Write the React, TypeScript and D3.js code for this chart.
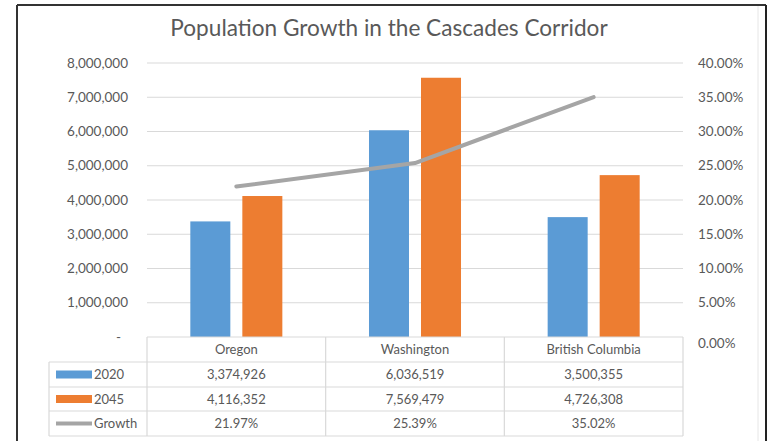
import React from "react";
import * as d3 from "d3";

const categories = ["Oregon", "Washington", "British Columbia"];
const seriesNames = ["2020", "2045"];
const pop2020 = [3374926, 6036519, 3500355];
const pop2045 = [4116352, 7569479, 4726308];
const growth = [0.2197, 0.2539, 0.3502];
const growthLabels = ["21.97%", "25.39%", "35.02%"];
const leftTicks = [0, 1000000, 2000000, 3000000, 4000000, 5000000, 6000000, 7000000, 8000000];
const rightTicks = [0, 0.05, 0.1, 0.15, 0.2, 0.25, 0.3, 0.35, 0.4];
const title = "Population Growth in the Cascades Corridor";

const W = 769, H = 441;
const FONT = "Lato, 'Open Sans', sans-serif";
const TEXT = "#595959";
const GRID = "#D9D9D9";
const BLUE = "#5B9BD5";
const ORANGE = "#ED7D31";
const GRAY = "#A5A5A5";

export default function App() {
  const plotL = 147, plotR = 683, plotT = 63, plotB = 337;
  const x = d3.scaleBand<string>().domain(categories).range([plotL, plotR]);
  const xs = d3.scaleBand<string>().domain(seriesNames).range([0, x.bandwidth()])
    .paddingInner(0.2308).paddingOuter(0.833);
  const y = d3.scaleLinear().domain([0, 8000000]).range([plotB, plotT]);
  const yR = d3.scaleLinear().domain([0, 0.4]).range([plotB, plotT]);
  const fmtNum = d3.format(",");
  const fmtPct = d3.format(".2%");
  const series = [pop2020, pop2045];
  const colors = [BLUE, ORANGE];
  const line = d3.line<number>()
    .x((_, i) => (x(categories[i]) as number) + x.bandwidth() / 2)
    .y((d) => yR(d));

  const rowsY = [337, 362, 387, 411, 436];
  const tableL = 49;
  const vLines = [plotL, ...categories.slice(1).map((c) => x(c) as number), plotR];

  return (
    <svg width={W} height={H} style={{ position: "fixed", left: 0, top: 0, background: "#fff" }}
      fontFamily={FONT}>
      <rect x={0} y={0} width={W} height={H} fill="#fff" />
      {/* outer frame */}
      <line x1={17} y1={5} x2={17} y2={H} stroke="#333" strokeWidth={2} />
      <line x1={17} y1={5} x2={766} y2={5} stroke="#333" strokeWidth={2} />
      <line x1={766} y1={5} x2={766} y2={H} stroke="#222" strokeWidth={2} />
      <line x1={758} y1={6} x2={758} y2={H} stroke="#E6E6E6" strokeWidth={1} />
      <text x={389} y={36} textAnchor="middle" fontSize={22.6} fill={TEXT}>{title}</text>

      {/* gridlines */}
      {leftTicks.slice(1).map((t) => (
        <line key={t} x1={plotL} x2={plotR} y1={y(t)} y2={y(t)} stroke={GRID} strokeWidth={1.2} />
      ))}
      {/* left axis labels */}
      {leftTicks.map((t) => (
        <text key={t} x={t === 0 ? 121 : 128} y={y(t)} dy="0.35em" textAnchor="end" fontSize={13.5} fill={TEXT}>
          {t === 0 ? "-" : fmtNum(t)}
        </text>
      ))}
      {/* right axis labels */}
      {rightTicks.map((t, i) => (
        <text key={t} x={698} y={yR(t) + (i === 0 ? 6 : 0)} dy="0.35em" textAnchor="start" fontSize={13.5} fill={TEXT}>
          {fmtPct(t)}
        </text>
      ))}

      {/* bars */}
      {series.map((vals, si) =>
        vals.map((v, ci) => (
          <rect key={si + "-" + ci}
            x={(x(categories[ci]) as number) + (xs(seriesNames[si]) as number)}
            y={y(v)} width={xs.bandwidth()} height={plotB - y(v)} fill={colors[si]} />
        ))
      )}
      {/* growth line */}
      <path d={line(growth) || ""} fill="none" stroke={GRAY} strokeWidth={4} strokeLinejoin="round" strokeLinecap="round" />

      {/* data table */}
      <line x1={plotL} x2={plotR} y1={rowsY[0]} y2={rowsY[0]} stroke={GRID} strokeWidth={1.2} />
      {rowsY.slice(1).map((ry) => (
        <line key={ry} x1={tableL} x2={plotR} y1={ry} y2={ry} stroke={GRID} strokeWidth={1.2} />
      ))}
      <line x1={tableL} x2={tableL} y1={rowsY[1]} y2={rowsY[4]} stroke={GRID} strokeWidth={1.2} />
      {vLines.map((vx, i) => (
        <line key={i} x1={vx} x2={vx} y1={rowsY[0]} y2={rowsY[4]} stroke={GRID} strokeWidth={1.2} />
      ))}
      {categories.map((c, ci) => {
        const cx = (x(c) as number) + x.bandwidth() / 2;
        const mid = (k: number) => (rowsY[k] + rowsY[k + 1]) / 2;
        return (
          <g key={c} fontSize={13} fill={TEXT} textAnchor="middle">
            <text x={cx} y={mid(0)} dy="0.35em">{c}</text>
            <text x={cx} y={mid(1)} dy="0.35em">{fmtNum(pop2020[ci])}</text>
            <text x={cx} y={mid(2)} dy="0.35em">{fmtNum(pop2045[ci])}</text>
            <text x={cx} y={mid(3)} dy="0.35em">{growthLabels[ci]}</text>
          </g>
        );
      })}
      {/* legend keys */}
      {seriesNames.map((s, si) => {
        const my = (rowsY[si + 1] + rowsY[si + 2]) / 2;
        return (
          <g key={s}>
            <rect x={56} y={my - 4} width={36} height={8} fill={colors[si]} />
            <text x={94} y={my} dy="0.35em" fontSize={13} fill={TEXT}>{s}</text>
          </g>
        );
      })}
      <line x1={56} x2={92} y1={(rowsY[3] + rowsY[4]) / 2} y2={(rowsY[3] + rowsY[4]) / 2} stroke={GRAY} strokeWidth={4} />
      <text x={94} y={(rowsY[3] + rowsY[4]) / 2} dy="0.35em" fontSize={13} fill={TEXT}>Growth</text>
    </svg>
  );
}
